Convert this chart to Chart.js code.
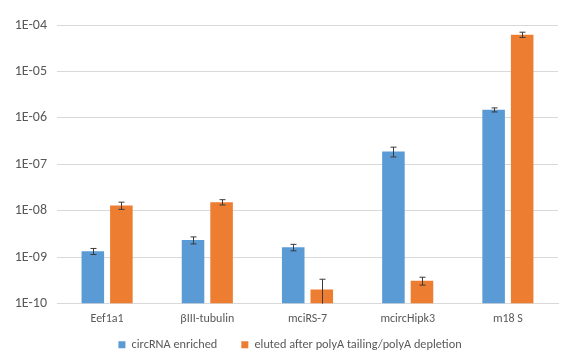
<!DOCTYPE html>
<html><head><meta charset="utf-8">
<script src="https://cdn.jsdelivr.net/npm/chart.js@4/dist/chart.umd.min.js"></script>
<style>html,body{margin:0;padding:0;background:#fff}#wrap{width:564px;height:361px}</style>
</head><body><div id="wrap"><canvas id="c" width="564" height="361"></canvas></div>
<script>
const categories = ["Eef1a1", "βIII-tubulin", "mciRS-7", "mcircHipk3", "m18 S"];
const seriesNames = ["circRNA enriched", "eluted after polyA tailing/polyA depletion"];
const circValues = [1.34e-9, 2.33e-9, 1.63e-9, 1.89e-7, 1.49e-6];
const circErrors = [0.2e-9, 0.4e-9, 0.26e-9, 0.45e-7, 0.15e-6];
const elutedValues = [1.3e-8, 1.53e-8, 2.0e-10, 3.1e-10, 6.2e-5];
const elutedErrors = [0.23e-8, 0.2e-8, 1.35e-10, 0.6e-10, 0.8e-5];
const yTicks = [1e-10, 1e-9, 1e-8, 1e-7, 1e-6, 1e-5, 1e-4];

const FONT = "Carlito, Lato, 'Liberation Sans', sans-serif";
const TXT = "#595959";

const errorBars = {
  id: 'errorBars',
  afterDatasetsDraw(chart) {
    const ctx = chart.ctx, ys = chart.scales.y, area = chart.chartArea;
    ctx.save();
    ctx.strokeStyle = '#3a3a3a';
    ctx.lineWidth = 1;
    chart.data.datasets.forEach((ds, di) => {
      const meta = chart.getDatasetMeta(di);
      meta.data.forEach((bar, i) => {
        const v = ds.data[i], e = ds.errors[i];
        const x = Math.round(bar.x) + 0.5;
        const yTop = ys.getPixelForValue(v + e);
        const lowVal = v - e;
        let yBot, capBot = true;
        if (lowVal <= ys.min) { yBot = area.bottom; capBot = false; }
        else yBot = ys.getPixelForValue(lowVal);
        ctx.beginPath();
        ctx.moveTo(x, yTop); ctx.lineTo(x, yBot);
        ctx.moveTo(x - 3, yTop); ctx.lineTo(x + 3, yTop);
        if (capBot) { ctx.moveTo(x - 3, yBot); ctx.lineTo(x + 3, yBot); }
        ctx.stroke();
      });
    });
    ctx.restore();
  }
};

const LEG_PAD = 24;
const legendPlace = {
  id: 'legendPlace',
  beforeUpdate(chart) {
    const lg = chart.legend;
    if (lg && !lg._patched) {
      const f = lg.fit.bind(lg);
      lg.fit = function () { f(); this.height = 27; };
      lg._patched = true;
    }
  },
  afterLayout(chart) {
    const lg = chart.legend;
    if (!lg) return;
    lg.top = 314.6;
    lg.bottom = 361;
    lg.left += 11;
    lg.right += 11;
  }
};

new Chart(document.getElementById('c'), {
  type: 'bar',
  data: {
    labels: categories,
    datasets: [
      { label: seriesNames[0], data: circValues, errors: circErrors, backgroundColor: '#5B9BD5', categoryPercentage: 0.57, barPercentage: 0.79 },
      { label: seriesNames[1], data: elutedValues, errors: elutedErrors, backgroundColor: '#ED7D31', categoryPercentage: 0.57, barPercentage: 0.79 }
    ]
  },
  options: {
    responsive: false,
    animation: false,
    layout: { padding: { left: 0, right: 6, top: 25, bottom: 0 } },
    plugins: {
      legend: {
        position: 'bottom',
        labels: { boxWidth: 7, boxHeight: 7, color: TXT, font: { family: FONT, size: 12.3 }, padding: LEG_PAD }
      },
      tooltip: { enabled: false }
    },
    scales: {
      x: {
        grid: { display: false, drawTicks: false },
        border: { display: true, color: '#D9D9D9' },
        ticks: { color: TXT, font: { family: FONT, size: 12 }, padding: 8 }
      },
      y: {
        type: 'logarithmic',
        min: 1e-10, max: 1e-4,
        afterBuildTicks(scale) { scale.ticks = yTicks.map(v => ({ value: v })); },
        afterFit(scale) { scale.width = 57; },
        grid: { color: '#D9D9D9', drawTicks: false },
        border: { display: false },
        ticks: {
          color: TXT, font: { family: FONT, size: 14 }, padding: 10,
          callback: (v) => { const p = Math.round(Math.log10(v)); return '1E' + (p < 0 ? '-' : '+') + String(Math.abs(p)).padStart(2, '0'); }
        }
      }
    }
  },
  plugins: [errorBars, legendPlace]
});
</script></body></html>
